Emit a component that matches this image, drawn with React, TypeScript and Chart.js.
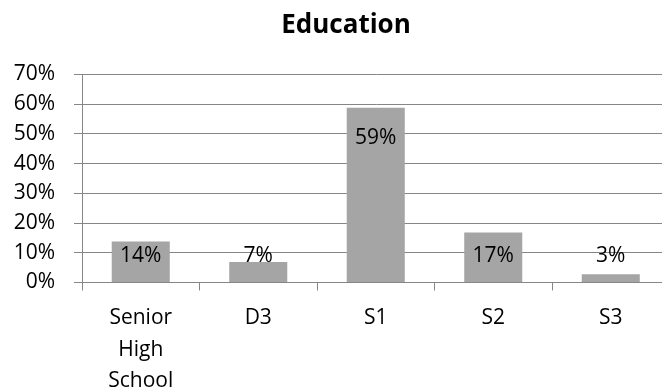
import React, { useEffect, useRef } from "react";
import { Chart, registerables } from "chart.js";

Chart.register(...registerables);

const titleText = "Education";
const categories: (string | string[])[] = [["Senior", "High", "School"], "D3", "S1", "S2", "S3"];
const values = [13.8, 6.9, 58.8, 16.8, 2.8];
const valueLabels = ["14%", "7%", "59%", "17%", "3%"];
const yMin = 0;
const yMax = 70;
const yStep = 10;

const FONT = '"Open Sans", "Noto Sans", sans-serif';
const GRID = "#868686";

const labelPlugin = {
  id: "barLabels",
  afterDatasetsDraw(chart: any) {
    const meta = chart.getDatasetMeta(0);
    const ctx = chart.ctx;
    const base = chart.scales.y.getPixelForValue(0);
    ctx.save();
    ctx.font = `21px ${FONT}`;
    ctx.fillStyle = "#000";
    ctx.textAlign = "center";
    ctx.textBaseline = "middle";
    meta.data.forEach((bar: any, i: number) => {
      const y = Math.min(bar.y + 30, base - 26.5);
      ctx.fillText(valueLabels[i], bar.x, y);
    });
    ctx.restore();
  },
};

const titlePlugin = {
  id: "offsetTitle",
  afterDraw(chart: any) {
    const ctx = chart.ctx;
    ctx.save();
    ctx.font = `bold 26px ${FONT}`;
    ctx.fillStyle = "#000";
    ctx.textAlign = "center";
    ctx.textBaseline = "alphabetic";
    ctx.fillText(titleText, 346, 33);
    ctx.restore();
  },
};

export default function App() {
  const ref = useRef<HTMLCanvasElement>(null);
  useEffect(() => {
    document.documentElement.style.overflow = "hidden";
    document.body.style.overflow = "hidden";
    const chart = new Chart(ref.current!, {
      type: "bar",
      data: {
        labels: categories,
        datasets: [
          {
            data: values,
            backgroundColor: "#A5A5A5",
            borderWidth: 0,
            barPercentage: 0.494,
            categoryPercentage: 1,
          },
        ],
      },
      options: {
        responsive: false,
        animation: false,
        layout: { padding: { left: 0, right: 2.5, top: 74.5, bottom: 0 } },
        plugins: {
          legend: { display: false },
          tooltip: { enabled: false },
          title: { display: false },
        },
        scales: {
          x: {
            grid: {
              display: true,
              drawOnChartArea: false,
              drawTicks: true,
              tickLength: 8,
              color: GRID,
              offset: true,
            },
            border: { display: true, color: GRID },
            ticks: {
              color: "#000",
              font: { family: FONT, size: 21, lineHeight: 1.5 },
              padding: 12,
              maxRotation: 0,
              autoSkip: false,
            },
          },
          y: {
            min: yMin,
            max: yMax,
            afterFit: (scale: any) => {
              scale.width = 82;
            },
            grid: { color: GRID, tickLength: 8, drawTicks: true },
            border: { display: true, color: GRID },
            ticks: {
              stepSize: yStep,
              autoSkip: false,
              color: "#000",
              font: { family: FONT, size: 21 },
              padding: 19,
              callback: (v: any) => `${v}%`,
            },
          },
        },
      },
      plugins: [labelPlugin, titlePlugin],
    });
    return () => chart.destroy();
  }, []);
  return (
    <div style={{ position: "absolute", left: 0, top: 0, width: 672, height: 409 }}>
      <canvas ref={ref} width={672} height={409} />
    </div>
  );
}
